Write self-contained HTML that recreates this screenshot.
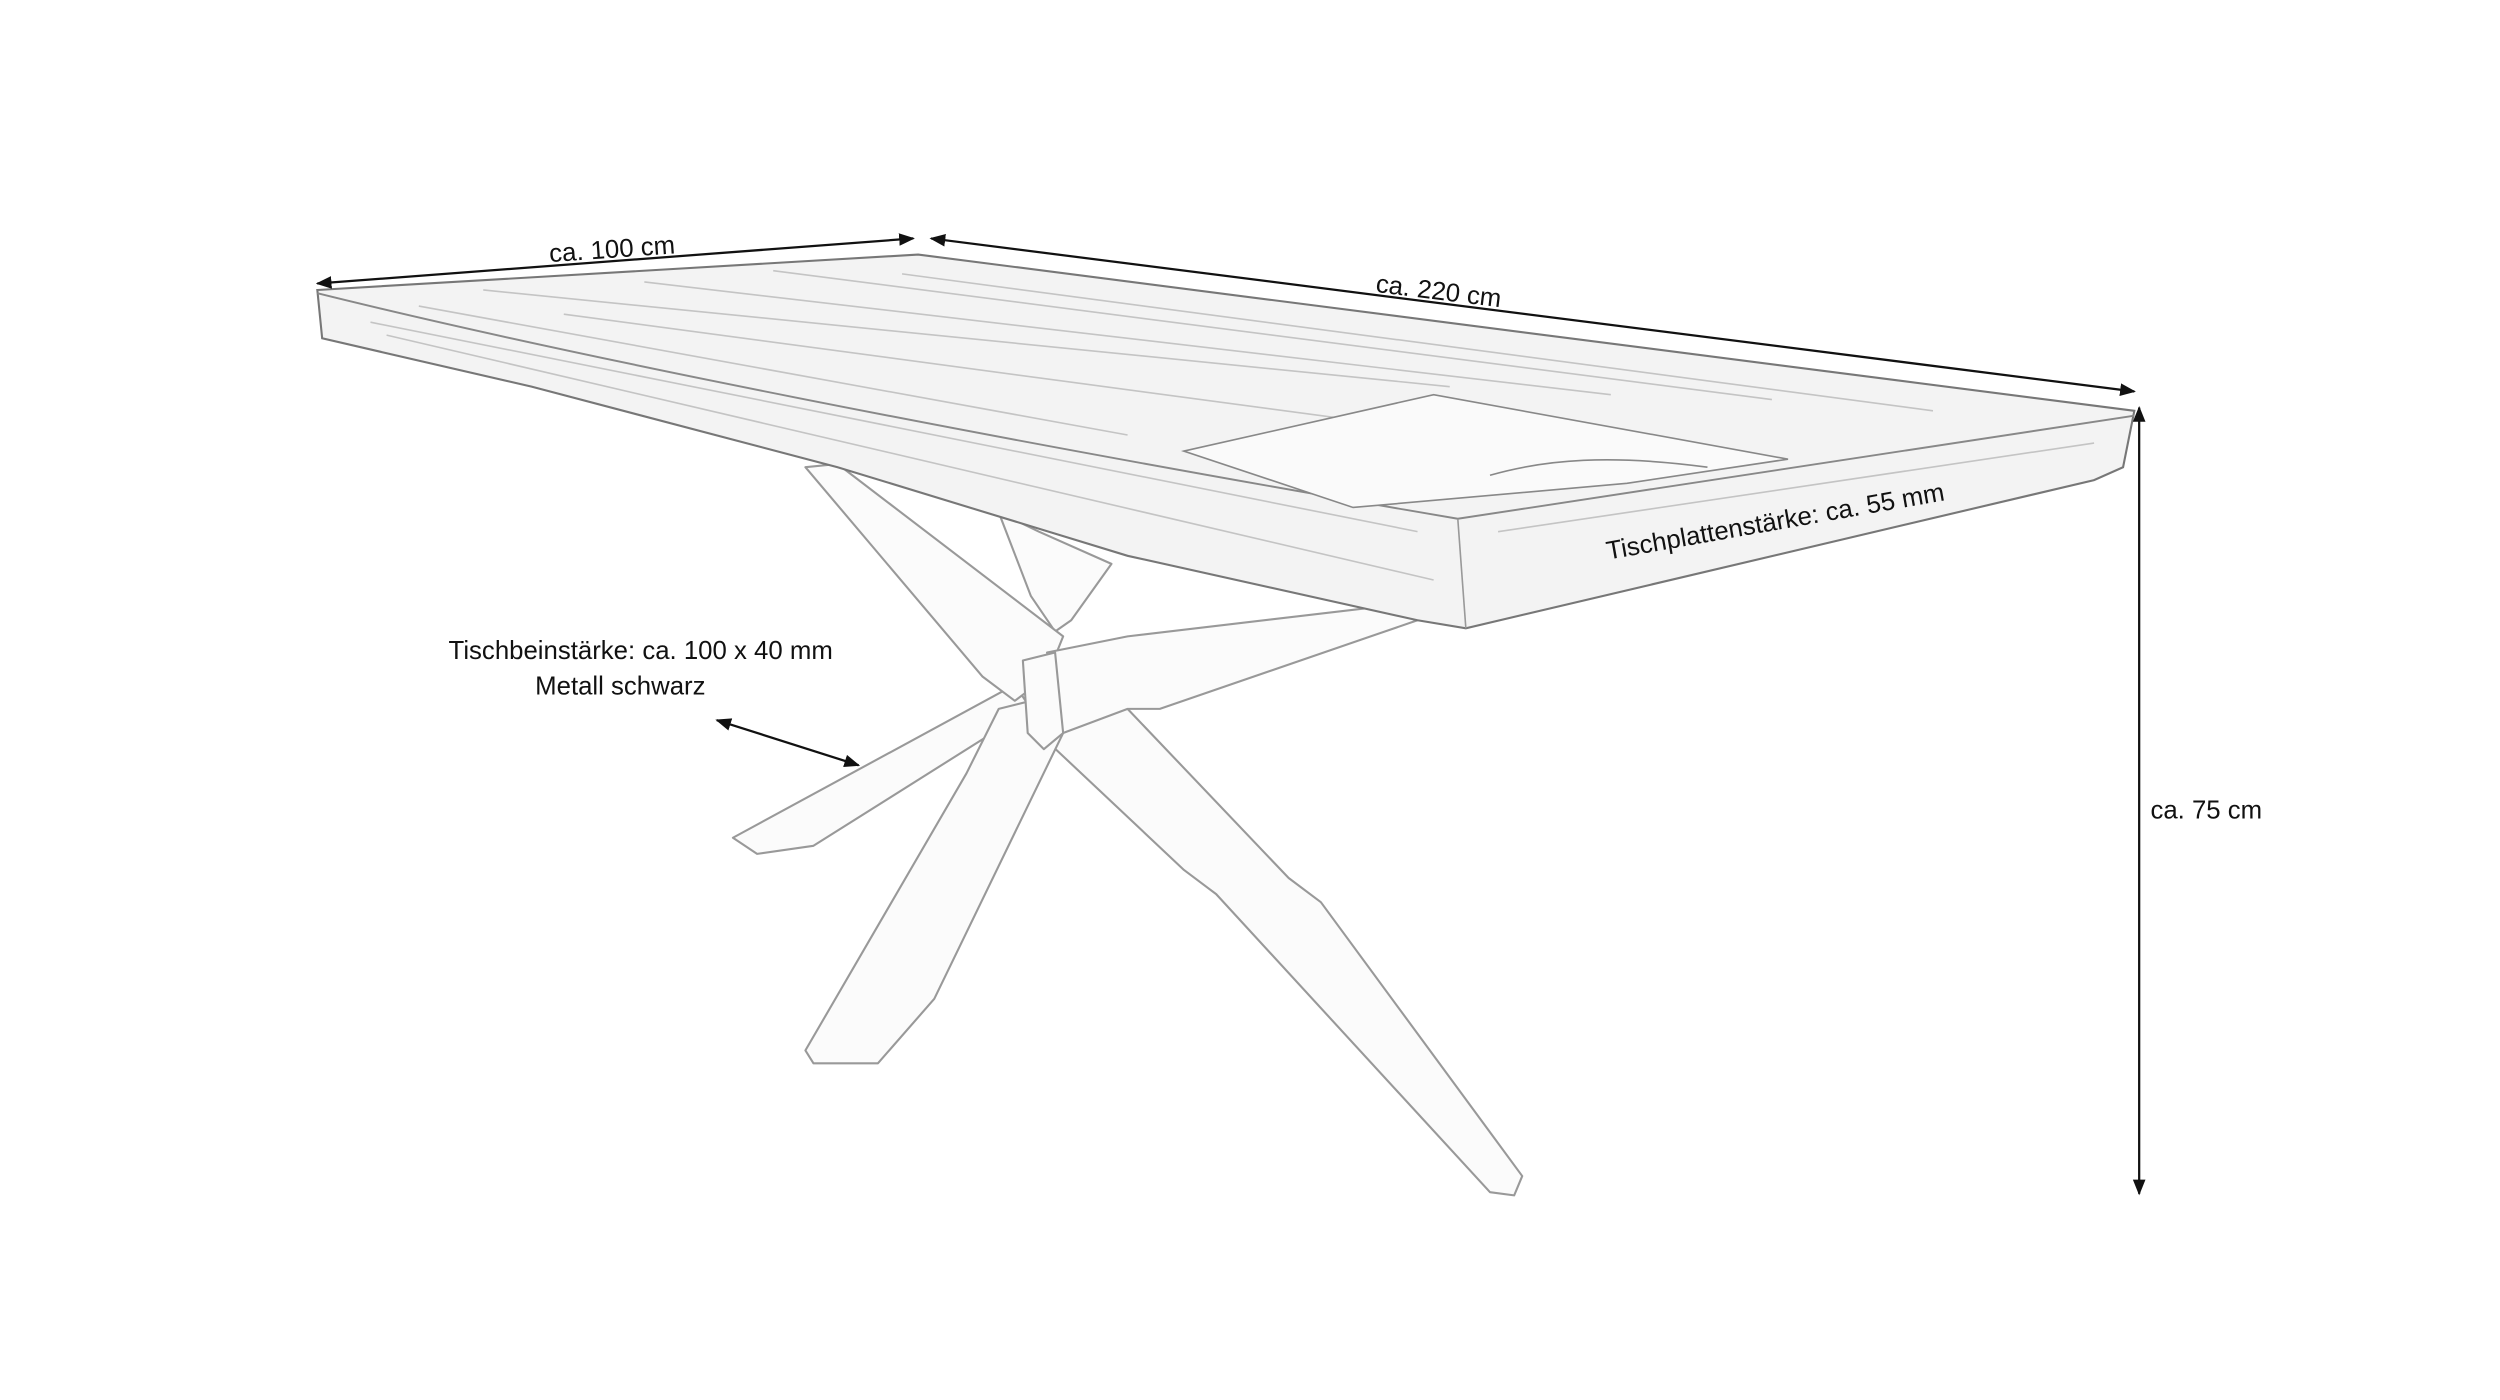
<!DOCTYPE html>
<html><head><meta charset="utf-8"><style>
html,body{margin:0;padding:0;background:#fff}
svg{display:block}
text{font-family:"Liberation Sans",sans-serif;fill:#111}
</style></head><body>
<svg width="2500" height="1400" viewBox="0 0 1552 869" preserveAspectRatio="none" xmlns="http://www.w3.org/2000/svg">
<defs>
<marker id="a" viewBox="0 0 10 10" refX="9" refY="5" markerWidth="7" markerHeight="7" orient="auto-start-reverse"><path d="M0,1 L10,5 L0,9 Z" fill="#111"/></marker>
</defs>
<!-- legs -->
<g fill="#fbfbfb" stroke="#999" stroke-width="1.3" stroke-linejoin="round">
<polygon points="455,520 470,530 505,525 640,440 630,425"/>
<polygon points="620,318 645,330 690,350 665,385 655,392 640,370"/>
<polygon points="500,290 520,288 660,395 650,420 630,435 610,420"/>
<polygon points="640,420 665,415 700,440 800,545 820,560 945,730 940,742 925,740 755,555 735,540 650,460"/>
<polygon points="620,440 640,435 660,455 580,620 545,660 505,660 500,652 600,480"/>
<polygon points="650,405 700,395 870,375 880,385 720,440 700,440 660,455"/>
<polygon points="635,410 655,405 660,455 648,465 638,455"/>
</g>
<!-- table top -->
<path d="M197,180 L570,158 L1325,255 L1318,290 L1300,298 L910,390 L880,385 L700,345 L520,290 L330,240 L200,210 Z" fill="#f3f3f3" stroke="#777" stroke-width="1.3"/>
<path d="M197,182 C350,220 600,270 905,322 L1325,258" fill="none" stroke="#888" stroke-width="1.2"/>
<path d="M905,322 L910,390" stroke="#999" stroke-width="1"/>
<g stroke="#c4c4c4" stroke-width="1" fill="none">
<path d="M300,180 L900,240"/><path d="M400,175 L1000,245"/><path d="M480,168 L1100,248"/>
<path d="M350,195 L850,262"/><path d="M560,170 L1200,255"/><path d="M260,190 L700,270"/>
<path d="M230,200 L880,330"/><path d="M240,208 L890,360"/><path d="M930,330 L1300,275"/>
</g>
<!-- magazine -->
<polygon points="735,280 890,245 1110,285 1010,300 840,315" fill="#fafafa" stroke="#888" stroke-width="1"/>
<path d="M925,295 C960,285 1000,282 1060,290" stroke="#888" fill="none"/>
<!-- dimension arrows -->
<g stroke="#111" stroke-width="1.4" fill="none">
<line x1="197" y1="176" x2="567" y2="148" marker-start="url(#a)" marker-end="url(#a)"/>
<line x1="578" y1="148" x2="1325" y2="243" marker-start="url(#a)" marker-end="url(#a)"/>
<line x1="1328" y1="253" x2="1328" y2="741" marker-start="url(#a)" marker-end="url(#a)"/>
<line x1="445" y1="447" x2="533" y2="475" marker-start="url(#a)" marker-end="url(#a)"/>
</g>
<text x="380" y="160" font-size="16" text-anchor="middle" transform="rotate(-4 380 155)">ca. 100 cm</text>
<text x="893" y="186" font-size="16" text-anchor="middle" transform="rotate(7 893 182)">ca. 220 cm</text>
<text x="1335" y="508" font-size="16">ca. 75 cm</text>
<text x="1102" y="329" font-size="16" text-anchor="middle" transform="rotate(-10 1102 323)">Tischplattenstärke: ca. 55 mm</text>
<text x="517" y="409" font-size="16" text-anchor="end">Tischbeinstärke: ca. 100 x 40 mm</text>
<text x="438" y="431" font-size="16" text-anchor="end">Metall schwarz</text>
</svg>
</body></html>
